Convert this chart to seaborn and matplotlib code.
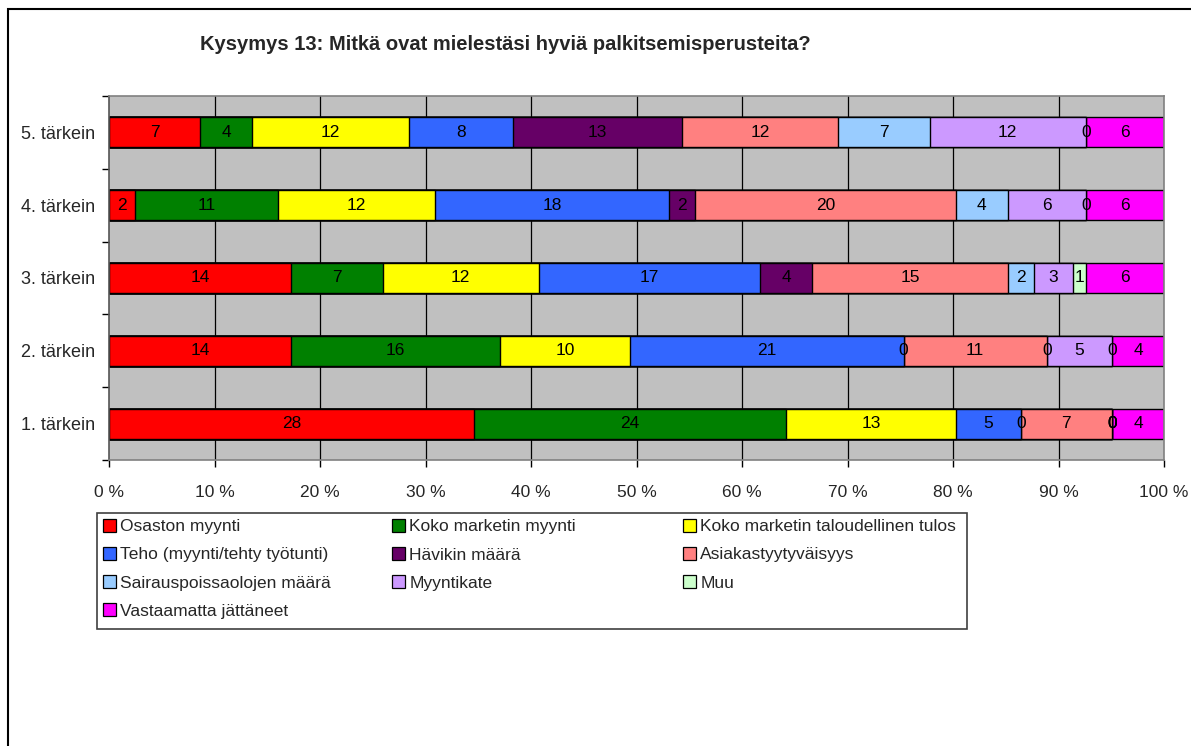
import numpy as np
import pandas as pd
import matplotlib
matplotlib.use("Agg")
import matplotlib.pyplot as plt
import seaborn as sns
from matplotlib.patches import Patch, Rectangle

categories = ["5. tärkein", "4. tärkein", "3. tärkein", "2. tärkein", "1. tärkein"]
series_names = [
    "Osaston myynti", "Koko marketin myynti", "Koko marketin taloudellinen tulos",
    "Teho (myynti/tehty työtunti)", "Hävikin määrä", "Asiakastyytyväisyys",
    "Sairauspoissaolojen määrä", "Myyntikate", "Muu", "Vastaamatta jättäneet",
]
osaston = [7, 2, 14, 14, 28]
koko_myynti = [4, 11, 7, 16, 24]
koko_tulos = [12, 12, 12, 10, 13]
teho = [8, 18, 17, 21, 5]
havikki = [13, 2, 4, 0, 0]
asiakas = [12, 20, 15, 11, 7]
sairaus = [7, 4, 2, 0, 0]
myyntikate = [12, 6, 3, 5, 0]
muu = [0, 0, 1, 0, 0]
vastaamatta = [6, 6, 6, 4, 4]
x_ticks = [0, 10, 20, 30, 40, 50, 60, 70, 80, 90, 100]
title = "Kysymys 13: Mitkä ovat mielestäsi hyviä palkitsemisperusteita?"

colors = ["#FF0000", "#008000", "#FFFF00", "#3366FF", "#660066",
          "#FF8080", "#99CCFF", "#CC99FF", "#CCFFCC", "#FF00FF"]

series = [osaston, koko_myynti, koko_tulos, teho, havikki, asiakas,
          sairaus, myyntikate, muu, vastaamatta]
counts = np.array(series, dtype=float)  # shape (10, 5)
totals = counts.sum(axis=0)
pct = counts / totals * 100
cum = np.cumsum(pct, axis=0)

sns.set_theme(style="white")
plt.rcParams["font.family"] = ["Liberation Sans", "DejaVu Sans"]

FS = 12.5
fig = plt.figure(figsize=(11.91, 7.46), dpi=100)
W, H = 1191, 746
ax = fig.add_axes([109 / W, 1 - 460 / H, (1164 - 109) / W, (460 - 96) / H])
ax.set_facecolor("#C0C0C0")

# outer frame
fig.patches.append(Rectangle((8 / W, -0.1), 1.2, 1 - 9 / H + 0.1, transform=fig.transFigure,
                             fill=False, edgecolor="black", linewidth=1.5, zorder=0))

for x in x_ticks[1:-1]:
    ax.axvline(x, color="black", linewidth=0.9, zorder=0)

for i in range(len(series) - 1, -1, -1):
    df = pd.DataFrame({"cat": categories, "val": cum[i]})
    sns.barplot(data=df, x="val", y="cat", order=categories, orient="h",
                color=colors[i], saturation=1, width=0.41,
                edgecolor="black", linewidth=1.0, ax=ax, zorder=2)

for i in range(len(series)):
    for j, cat in enumerate(categories):
        start = cum[i, j] - pct[i, j]
        ax.text(start + pct[i, j] / 2, j, f"{int(counts[i, j])}", ha="center", va="center",
                fontsize=FS, color="black", zorder=5)

ax.set_xlim(0, 100)
ax.set_ylim(4.5, -0.5)
ax.set_xticks(x_ticks)
ax.set_xticklabels([f"{t} %" for t in x_ticks], fontsize=FS)
ax.set_xlabel("")
ax.set_ylabel("")
ax.tick_params(axis="y", length=0, labelsize=13, pad=10)
ax.set_yticks(np.arange(-0.5, 5, 1), minor=True)
ax.tick_params(axis="y", which="minor", length=5, width=1, color="black", direction="out", left=True)
ax.tick_params(axis="x", length=5, width=1, color="black", direction="out", bottom=True, pad=13)
for s in ["top", "right", "bottom"]:
    ax.spines[s].set_color("#808080")
    ax.spines[s].set_linewidth(1.2)
ax.spines["left"].set_color("#555555")
ax.spines["left"].set_linewidth(1.2)

fig.text(505 / W, 1 - 45 / H, title, ha="center", va="center", fontsize=14.5, fontweight="bold")

# legend: frame + three columns
fig.patches.append(Rectangle((97 / W, 1 - 629 / H), (967 - 97) / W, (629 - 513) / H,
                             transform=fig.transFigure, fill=False, edgecolor="#404040",
                             linewidth=1.2, zorder=3))
handles = [Patch(facecolor=c, edgecolor="black", linewidth=0.9) for c in colors]
columns = [[0, 3, 6, 9], [1, 4, 7], [2, 5, 8]]
col_x = [103, 392, 683]
for xs, idx in zip(col_x, columns):
    fig.legend([handles[k] for k in idx], [series_names[k] for k in idx],
               loc="upper left", bbox_to_anchor=(xs / W, 1 - 519 / H),
               frameon=False, fontsize=FS, ncol=1,
               handlelength=0.75, handleheight=0.75, handletextpad=0.25,
               borderaxespad=0, labelspacing=0.73, borderpad=0)

fig.savefig("out.png", dpi=100, facecolor="white")
